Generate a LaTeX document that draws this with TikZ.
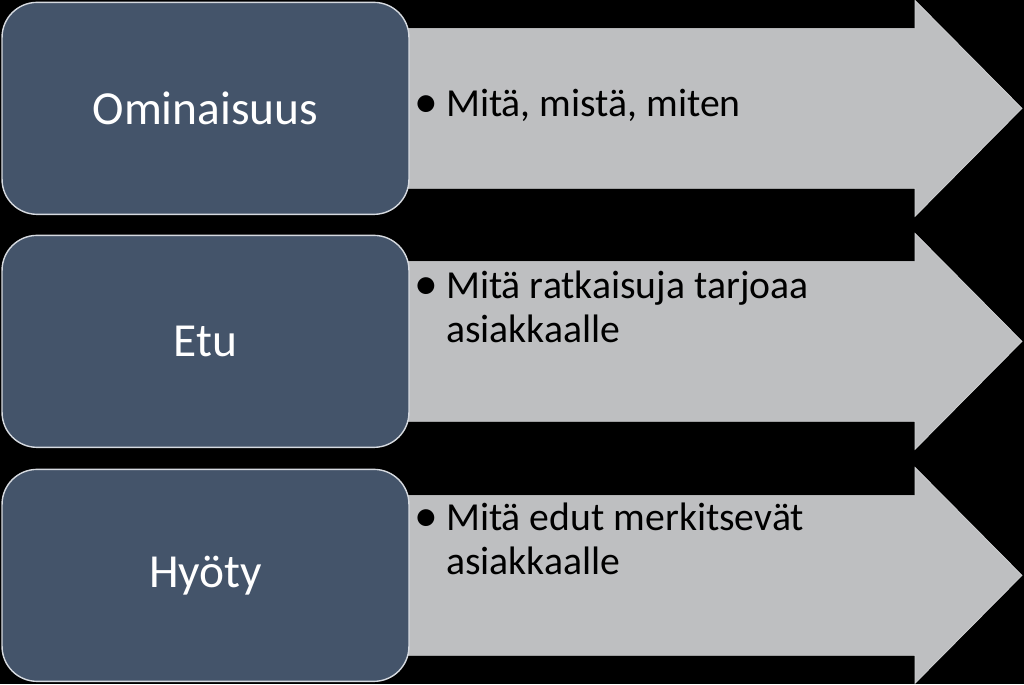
\documentclass[tikz,border=0pt]{standalone}
\usepackage{fontspec}
\setmainfont{Carlito}
\definecolor{slate}{HTML}{44546A}
\definecolor{arrowgray}{HTML}{BEBFC1}
\definecolor{rimgray}{HTML}{D6DAE0}
\newcommand{\bigdot}{\raisebox{-0.03cm}{\scalebox{1.2}{\textbullet}}}
\tikzset{
	featbox/.style={draw=rimgray, line width=0.8pt, fill=slate, rounded corners=0.7cm,
		minimum width=8.14cm, minimum height=4.24cm, text=white, font=\fontsize{27}{32}\selectfont},
	featarrow/.style={fill=arrowgray, draw=arrowgray!70!white, line width=0.4pt},
	bullettext/.style={anchor=base west, align=left, text=black, inner sep=0pt, font=\fontsize{22.6}{25}\selectfont}
}

\begin{document}
\begin{tikzpicture}[x=0.02cm, y=-0.02cm]
		%%%%% START %%%%%
		
		\fill[black] (0, 0) rectangle (1024, 684);
		
		\draw[featarrow] (360, 28) -- (915, 28) -- (915, 0) -- (1022, 108) -- (915, 216) -- (915, 188) -- (360, 188) -- cycle;
		\draw[featarrow] (360, 261) -- (915, 261) -- (915, 233) -- (1022, 341) -- (915, 449) -- (915, 421) -- (360, 421) -- cycle;
		\draw[featarrow] (360, 495) -- (915, 495) -- (915, 467) -- (1022, 575) -- (915, 683) -- (915, 655) -- (360, 655) -- cycle;
		
		\node[featbox] (ominaisuus) at (205.5, 108) {Ominaisuus};
		\node[featbox] (etu) at (205.5, 341) {Etu};
		\node[featbox] (hyoty) at (205.5, 575) {Hyöty};
		
		\node[bullettext] (mita1) at (414, 116) {\bigdot\hspace{0.16cm}Mitä, mistä, miten};
		\node[bullettext] (mita2) at (414, 342) {\bigdot\hspace{0.16cm}Mitä ratkaisuja tarjoaa\\\phantom{\bigdot}\hspace{0.16cm}asiakkaalle};
		\node[bullettext] (mita3) at (414, 574) {\bigdot\hspace{0.16cm}Mitä edut merkitsevät\\\phantom{\bigdot}\hspace{0.16cm}asiakkaalle};
		
		%%%%% END %%%%%
	\end{tikzpicture}
\end{document}
